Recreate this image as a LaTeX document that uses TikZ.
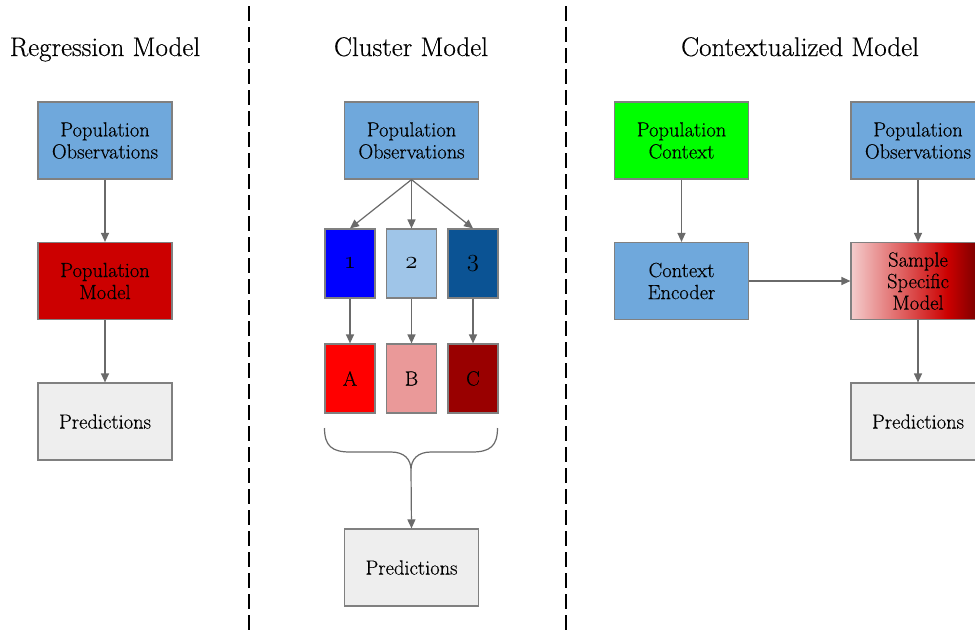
\documentclass[tikz,border=0pt]{standalone}
\usepackage{fontspec}
\setmainfont{Latin Modern Roman}[AutoFakeBold=0.4]
\usetikzlibrary{arrows.meta}
\newcommand{\osnum}[1]{{\usefont{OML}{cmm}{m}{it}#1}}
\definecolor{popblue}{HTML}{6FA8DC}
\definecolor{modelred}{HTML}{CC0000}
\definecolor{predgray}{HTML}{EEEEEE}
\definecolor{ctxgreen}{HTML}{00FF00}
\definecolor{cone}{HTML}{0000FF}
\definecolor{ctwo}{HTML}{9FC5E8}
\definecolor{cthree}{HTML}{0B5394}
\definecolor{cA}{HTML}{FF0000}
\definecolor{cB}{HTML}{EA9999}
\definecolor{cC}{HTML}{990000}
\definecolor{bordergray}{HTML}{808080}
\definecolor{arrgray}{HTML}{6A6A6A}
\definecolor{pinklight}{HTML}{F4CCCC}
\definecolor{darkred}{HTML}{660000}
\pgfdeclarehorizontalshading{ssmshade}{100bp}{color(0bp)=(pinklight); color(25bp)=(pinklight); color(61bp)=(modelred); color(75bp)=(darkred); color(100bp)=(darkred)}
\tikzset{
  box/.style={draw=bordergray, line width=1.2pt, minimum width=134pt, minimum height=77pt, inner sep=0pt, align=center, font=\fontsize{20.5}{22}\selectfont\bfseries},
  smallbox/.style={box, minimum width=50pt, minimum height=69pt},
  title/.style={font=\fontsize{27}{30}\selectfont\bfseries, anchor=base},
  arr/.style={draw=arrgray, line width=1.2pt, -{Triangle[length=9pt,width=8pt]}},
  divider/.style={line width=2.6pt, dash pattern=on 15pt off 6pt},
}
\begin{document}
\begin{tikzpicture}[x=1pt,y=-1pt]
\path[use as bounding box, clip] (0,0) rectangle (975,630);
\fill[white] (0,0) rectangle (975,630);
% dividers
\coordinate (d1t) at (249,6); \coordinate (d1b) at (249,632);
\coordinate (d2t) at (566,6); \coordinate (d2b) at (566,632);
\draw[divider] (d1t) -- (d1b);
\draw[divider] (d2t) -- (d2b);
% titles
\node[title] (t1) at (105,56) {Regression Model};
\node[title] (t2) at (411,56) {Cluster Model};
\node[title] (t3) at (800,56) {Contextualized Model};
% regression
\node[box, fill=popblue] (rpo) at (105,140.5) {Population\\Observations};
\node[box, fill=modelred] (rpm) at (105,281) {Population\\Model};
\node[box, fill=predgray] (rpr) at (105,421.5) {Predictions};
\draw[arr] (rpo) -- (rpm);
\draw[arr] (rpm) -- (rpr);
% cluster
\node[box, fill=popblue] (cpo) at (411.5,140.5) {Population\\Observations};
\node[smallbox, fill=cone] (c1) at (350,263.5) {\fontsize{25}{25}\selectfont\osnum{1}};
\node[smallbox, fill=ctwo] (c2) at (411.5,263.5) {\fontsize{25}{25}\selectfont\osnum{2}};
\node[smallbox, fill=cthree] (c3) at (473,263.5) {\fontsize{25}{25}\selectfont\osnum{3}};
\node[smallbox, fill=cA] (cAn) at (350,378.5) {A};
\node[smallbox, fill=cB] (cBn) at (411.5,378.5) {B};
\node[smallbox, fill=cC] (cCn) at (473,378.5) {C};
\node[box, fill=predgray] (cpr) at (411.5,567.5) {Predictions};
\draw[arr] (cpo.south) -- (c1.north);
\draw[arr] (cpo.south) -- (c2.north);
\draw[arr] (cpo.south) -- (c3.north);
\draw[arr] (c1) -- (cAn);
\draw[arr] (c2) -- (cBn);
\draw[arr] (c3) -- (cCn);
\coordinate (bl) at (324.5,428);
\coordinate (br) at (497.5,428);
\coordinate (btip) at (411,470);
\draw[draw=arrgray, line width=1.2pt] (bl) .. controls (324.5,446) and (332,452) .. (350,452) -- (391,452) .. controls (404,452) and (411,459) .. (btip) .. controls (411,459) and (418,452) .. (431,452) -- (472,452) .. controls (490,452) and (497.5,446) .. (br);
\draw[arr] (btip) -- (cpr.north);
% contextualized
\node[box, fill=ctxgreen] (xpc) at (681.5,140.5) {Population\\Context};
\node[box, fill=popblue] (xce) at (681.5,281) {Context\\Encoder};
\node[box, fill=popblue] (xpo) at (918,140.5) {Population\\Observations};
\node[box, shading=ssmshade, font=\fontsize{20.5}{21.5}\selectfont\bfseries] (xsm) at (918,281) {Sample\\Specific\\Model};
\node[box, fill=predgray] (xpr) at (918,421.5) {Predictions};
\draw[arr] (xpc) -- (xce);
\draw[arr] (xce) -- (xsm);
\draw[arr] (xpo) -- (xsm);
\draw[arr] (xsm) -- (xpr);
\end{tikzpicture}
\end{document}
